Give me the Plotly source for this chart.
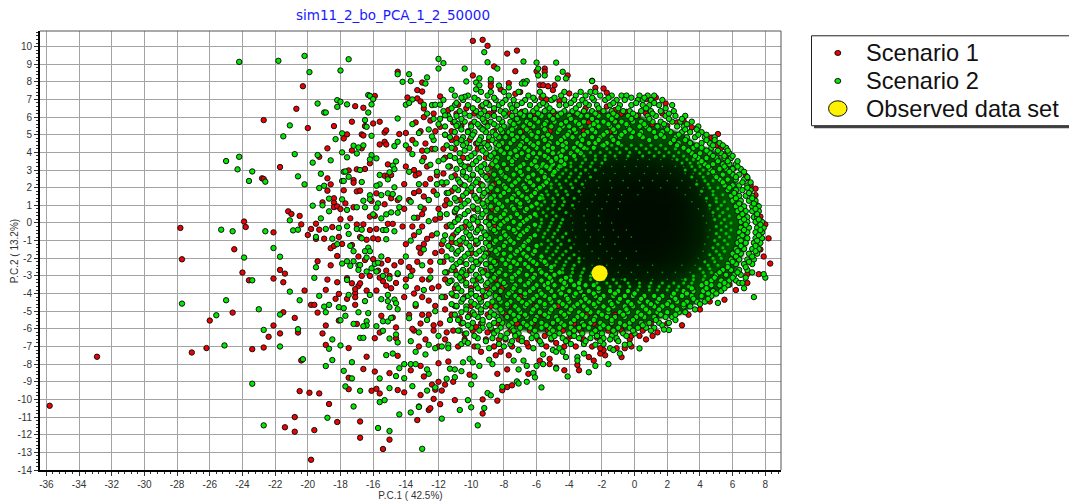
import plotly.graph_objects as go

TITLE = "sim11_2_bo_PCA_1_2_50000"
X_TITLE = "P.C.1 ( 42.5%)"
Y_TITLE = "P.C.2 ( 13.2%)"
SERIES_NAMES = ["Scenario 1", "Scenario 2", "Observed data set"]
X_TICKS = [-36,-34,-32,-30,-28,-26,-24,-22,-20,-18,-16,-14,-12,-10,-8,-6,-4,-2,0,2,4,6,8]
Y_TICKS = [10,9,8,7,6,5,4,3,2,1,0,-1,-2,-3,-4,-5,-6,-7,-8,-9,-10,-11,-12,-13,-14]
OBSERVED = [(-2.14, -2.85)]

# Scenario 1 points
S1 = [(-20.3,7.75),(-20.7,6.47),(-22.7,5.83),(-20,5.38),(-18.4,5.49),(-17.3,5.74),(-16.6,6.53),(-17.1,6.62),(-15.9,7.2),(-14.5,8.57),
(-16,5.64),(-15.6,5.74),(-16.5,5.49),(-15.3,5.13),(-15.2,5.25),(-14.4,5.04),(-16.7,5.02),(-16.6,4.96),(-17.6,5.02),(-17.8,4.79),
(-15.6,4.45),(-15.3,4.6),(-15.2,4.45),(-18.8,4.23),(-17.3,4.11),(-16.7,4.23),(-19.3,3.75),(-21.7,3.17),(-15.1,3.32),(-16.2,3.38),
(-17.5,2.98),(-17,3.04),(-16.5,3.06),(-15.3,2.68),(-15.1,2.68),(-14.9,2.72),(-18.8,2.53),(-22.8,2.53),(-22.7,2.49),(-17.2,2.43),
(-17.2,2.28),(-18.6,2.19),(-18.8,1.83),(-17.8,1.85),(-17,1.79),(-16.8,1.83),(-15.8,1.68),(-14.9,1.4),(-14.5,1.3),(-18.4,1.4),
(-18.4,1.15),(-17.7,1.11),(-18.4,.9),(-18.2,.94),(-18,.79),(-19.1,1.17),(-15.3,1.06),(-16.1,1.25),(-17.2,.89),(-21.2,.66),
(-21,.51),(-20.5,.4),(-16.2,.36),(-15.9,.4),(-18,.21),(-17.4,.26),(-23.9,.08),(-23.8,-.23),(-20.4,-.08),(-19.5,-.04),
(-27.8,-.28),(-22.1,-.53),(-19.8,-.34),(-19.3,-.38),(-18.5,-.23),(-17,-.09),(-16.6,-.08),(-16.2,-.4),(-15.8,-.34),(-15.1,-.05),
(-14.8,-.05),(-20,-.68),(-19.5,-.9),(-19,-.89),(-18.1,-.79),(-16.8,-.8),(-16.4,-.95),(-16,-.87),(-15.7,-.92),(-24.5,-1.49),
(-18.6,-1.43),(-18.4,-1.3),(-17.9,-1.19),(-17.3,-1.25),(-27.7,-2.06),(-35.8,-10.36),(-32.9,-7.58),(-27.1,-7.34),(-26.2,-7.09),(-26,-5.53),
(-24.6,-5.08),(-24,-2.81),(-23.6,-3.25),(-23.4,-7.15),(-22.7,-7.06),(-22.4,-6.45),(-22.1,-5.81),(-22.1,-3.15),(-21.7,-2.66),(-21.4,-2.87),
(-21.5,-3.36),(-21.5,-5.06),(-21.7,-6.26),(-20.8,-5.38),(-20.6,-6.21),(-20.4,-7.79),(-20.5,-9.53),(-19.9,-9.62),(-19.3,-9.66),(-18.7,-10.26),
(-20.8,-11),(-21.4,-11.58),(-20.8,-11.83),(-19.6,-11.74),(-18.2,-11.28),(-16.8,-11.25),(-16.8,-12.17),(-15,-12.28),(-15.4,-12.81),(-19.8,-13.42),
(-19.4,-2.17),(-18.6,-2.4),(-18.2,-1.87),(-18.8,-3.21),(-18.2,-3.36),(-18.9,-3.79),(-20.2,-3.83),(-19.8,-4.64),(-19.6,-4.64),(-19.4,-5.08),
(-18.3,-4.3),(-18.1,-4.02),(-17.6,-4.3),(-17.1,-4.64),(-17.1,-3.98),(-17.1,-4.21),(-17.6,-3.13),(-17.3,-3.42),(-16.9,-3.57),(-17.1,-3.75),
(-16.7,-3),(-16.2,-3),(-16.4,-3.83),(-15.8,-3.83),(-16.8,-3.42),(-18.9,-5.81),(-19.1,-6.26),(-18.9,-6.91),(-18.1,-5.53),(-17,-5.72),
(-17.5,-7.09),(-16.4,-7.58),(-16.6,-8.28),(-15.9,-6.53),(-15.5,-5.26),(-15.6,-6.21),(-14.8,-5.36),(-14.6,-5.92),(-14.6,-6.53),(-14.5,-7.53),
(-15,-8.51),(-15.9,-8.42),(-17.5,-8.77),(-17.5,-9.42),(-16.1,-9.51),(-15.8,-9.4),(-15.6,-9.66),(-14.5,-9.47),(-16.9,-1.9),(-16.5,-2.1),
(-16,-2.05),(-15.5,-2.3),(-15.2,-2.7),(-15,-3),(-15.4,-3.3),(-15.2,-3.55),(-14.9,-3.7),(-15.1,-2.1),(-14.7,-2.4),(-14.5,-2.9),
(-14.6,-3.4),(-15.6,-3.1),(-15.7,-2.7),
(-9.9,10.32),(-9.3,10.38),(-9,10.04),(-7.8,9.6),(-7.2,9.77),(-8.6,8.87),(-7.3,8.6),(-6,8.6),(-5.5,8.75),(-5.5,8.57),(-4.1,8.36),
(-9.9,8.36),(-7.7,7.92),(-8.8,7.96),(-2.6,8.06),(-8.8,7.75),(-5.8,7.81),(-5.6,7.81),(-5.3,7.75),(-4.9,7.81),(-5,7.53),(-7,7.42),
(-7.3,7.32),(-8.2,7.57),(-2.4,7.66),(-1.9,7.62),(-1.7,7.38),(-4,7.34),(1.9,6.77),(1.3,7.11),(.7,7.02),(3,5.79),(3.5,5.42),(3.8,5.36),
(5.1,5.04),(4.7,4.83),(5,4.41),(5.3,4.26),(5.5,3.9),(5.7,3.75),(6.1,3.13),(6.8,2.68),(6.9,2.53),(7.4,1.94),(7.1,2.15),(7.4,1.58),
(7.7,.36),(8,-.08),(8.2,-.87),(-13.9,7.11),(-13,7.96),(-13.3,7.53),(-13,7.45),(-13.3,7.06),(-13.1,6.89),(-11.9,7.17),(-12.9,6.49),
(-11.4,6.4),(-11.9,5.45),(-12.5,5.8),(-12.9,6),(-14,5.1),(-12.8,4.5),(-13,4.1),(-10.8,6.7),(-10.3,6.5),(-9.4,6.6),(-9,6.8),(-8.6,6.4),
(-5.7,7.1),(-5.4,7),(-5,7),(-4.6,6.9),(-6.9,6.3),(-3,6.5),(-1.7,6.6),(-1.2,6.4),(-.5,6.3),(.2,6.1),(1.1,5.6),(1.4,5.5),(2,5.5),(-6.4,5.4),
(-3.7,5.2),(-11.2,5.2),(-10.6,5.5),(-10,5.6),(-9.4,5.4),(-10.9,4.8),(-11.7,4.2),(-9.7,4.5),(-13.5,3),(-13.2,2.8),(-12.5,2.5),(-11.7,2.8),
(-12.9,1.5),(-13.5,1.7),(-11.6,1),(-11,.6),(-12.2,.2),(-13,.5),(-13.6,-.2),(-12.7,-.9),(-11.2,-1.1),(-11.8,-1.6),(-13.2,-1.4),(-13.8,-2.5),
(-12.5,-2.2),(-11.5,-2.8),(-13,-3.2),(-12,-3.6),(-13.5,-4),(-12.6,-4.4),(-11.1,-4.1),(-11.6,-4.9),(-13,-5.2),(-12.3,-5.8),(-10.7,-5.4),(-13.6,-6),
(-11.5,-6.2),(-10.4,-6.3),(-9.7,-5.9),(-9,-6.2),(-8.3,-6.6),(-7.3,-6.3),(-6.6,-6.8),(-5.5,-6.4),(-4.8,-6.8),(-3.9,-6.4),(-3.1,-6.6),(-2.3,-6.5),
(-13.3,-11.17),(-12.6,-10.6),(-12.5,-10.5),(-13.2,-10.4),(-11.9,-10.27),(-11,-10.04),(-9.3,-10),(-9.3,-10.8),(-8.4,-10.07),(-12.3,-9.97),(-13.1,-9.75),
(-14.1,-9.6),(-11.8,-9.5),(-12.2,-9.45),(-12.4,-9.16),(-12,-9),(-11.6,-9.16),(-11.1,-9),(-8.1,-9.48),(-7.8,-9.3),(-7.5,-9.2),(-8.4,-8.55),
(-7.8,-8.3),(-6.5,-8.55),(-10.1,-8.6),(-12.9,-8.7),(-13.7,-8.35),(-13.1,-8.1),(-12,-7.95),(-11.4,-7.85),(-4.3,-8.35),(-3.4,-8.35),(-3.5,-8.05),
(-5.2,-8),(-4.8,-8.2),(-5.2,-7.7),(-5.8,-7.8),(-8.5,-7.5),(-7.7,-7.5),(-9.4,-7.3),(-8.2,-7.3),(-2.8,-7.6),(-2.5,-7.8),(-2.1,-7.4),(-1.8,-7.5),
(-1.9,-7.2),(-2.1,-7.1),(-.8,-7.6),(-1.1,-7.1),(-.6,-7.1),(-.2,-7),(.7,-6.6),(1.1,-6.4),(1.4,-6.2),(2.9,-5.8),(-.2,-6.4),(.3,-6.4),(4.6,-4.45),
(5.5,-4.35),(5.8,-3.5),(6.9,-3.4),(6.9,-2.9),(8.3,-2.3),(7.6,-2.9),(2,-5.7),(3.3,-5.2),(4,-4.9),(6.2,-3.8),(7.7,-1.5),(7.9,-1.9),(7.5,1),(7.2,1.3)]

# Scenario 1, crowded left and lower parts, row by row: (P.C.2, [P.C.1 ...])
S1_RING = [
(6.2,[-12.3,-10.9,-9.8,-8.9,-7.7,-6.1,-4.9,-3.6,-2.2,-.8,.7,1.7]),(5.7,[-13.4,-11.1,-9.1,-8.1,-7.2,-5.4,-4.2,-2.8,-1.1,.4,2.6]),
(5.2,[-13.1,-12.2,-10.2,-8.6,-6.9,-5.2,-3.1,-1.5]),(4.7,[-13.6,-11.2,-10.1,-8.9,-7.4]),
(4.2,[-13.8,-12.4,-11,-9.6,-8.2]),(3.7,[-12.9,-11.6,-10.5,-9.1]),(3.2,[-14,-12.7,-11.3,-10.2,-8.8,-7.9]),
(2.7,[-13.4,-12.1,-11,-9.9,-9]),(2.2,[-14.1,-12.8,-11.7,-10.6,-9.4,-8.6]),(1.8,[-13.2,-12.3,-11.2,-10,-8.9]),
(1.3,[-13.8,-12.6,-11.5,-10.7,-9.5]),(.8,[-14.1,-12.9,-12,-10.9,-9.8,-8.7]),(.3,[-13.3,-11.9,-10.8,-9.9,-8.9]),
(-.2,[-14.2,-13,-11.5,-10.4,-9.5,-8.6]),(-.7,[-13.5,-12.4,-11.1,-10.1,-9.1]),(-1.2,[-14,-12.9,-11.8,-10.7,-9.7,-8.8]),
(-1.7,[-13.1,-12.2,-10.9,-10,-9]),(-2.2,[-14.3,-13.3,-11.7,-10.6,-9.5,-8.5]),(-2.7,[-13.6,-12.5,-11,-10.1,-9.2]),
(-3.2,[-14,-12.6,-11.6,-10.5,-9.6,-8.5]),(-3.7,[-13.3,-12.4,-11,-10,-9,-8.1]),(-4.2,[-14.1,-13,-11.6,-10.4,-9.3,-8.3,-7]),
(-4.7,[-13.4,-12.2,-11,-10,-8.8,-7.7,-6.1,-4.7]),(-5.2,[-13.8,-12.6,-11.2,-10.1,-9,-7.9,-6.8,-5.6,-4.2,-2.9,-1.2]),
(-5.7,[-13.1,-11.9,-10.6,-9.4,-8.4,-7.2,-6.2,-5,-3.7,-2.5,-1.4,-.3,1]),(-6.1,[-13.5,-12.3,-11.1,-9.9,-8.7,-7.6,-6.4,-5.3,-4.4,-3.3,-2.4,-1.6,-.8,.5]),
(-6.6,[-12.8,-11.6,-10.4,-9.1,-7.9,-7.1,-5.9,-5.1,-4.1,-3.2,-2,-1.1,-.3]),(-7,[-13.2,-12,-10.8,-9.8,-8.6,-7.5,-6.5,-5.4,-4.3,-3.6,-2.6]),
]

# Scenario 2 points (sparse outer part)
S2 = [(-24.2,9.13),(-21.8,9.19),(-20.2,9.47),(-17.5,9.28),(-19.9,8.55),(-18,8.64),(-14.5,8.43),(-16.3,7.25),(-16.2,7.2),(-16,7.02),(-18.2,6.96),
(-18,6.87),(-19.4,6.77),(-17.6,6.72),(-16.1,6.72),(-18.2,6.58),(-19,6.26),(-18.9,6.26),(-16.3,6.26),(-16.5,5.83),(-14.5,5.92),(-21.1,5.53),
(-16.4,5.45),(-21.5,4.91),(-17.9,5.08),(-16.1,4.94),(-18.3,4.75),(-17.2,4.38),(-16.9,4.28),(-16.6,4.4),(-14.7,4.36),(-14.5,4.6),(-20.8,3.9),
(-19.4,3.85),(-17.9,4),(-17,3.94),(-16.1,3.85),(-17.6,3.72),(-16.2,3.6),(-15.8,3.66),(-24.2,3.75),(-25,3.51),(-19.7,3.42),(-18.6,3.55),(-24.3,3.04),
(-23.4,2.92),(-17.8,2.9),(-17.7,2.92),(-16.8,3),(-14.6,3.49),(-14.8,3.25),(-14.7,3.05),(-15,2.87),(-15.6,2.72),(-19.2,2.79),(-20.6,2.64),(-17.5,2.62),
(-15.1,2.47),(-23.6,2.38),(-22.6,2.34),(-17.9,2.38),(-17.8,2.38),(-16.7,2.32),(-20.2,2.19),(-19,2.11),(-19.3,1.98),(-15.6,2.19),(-15.8,2.11),(-14.7,2.02),
(-15.1,1.68),(-15.5,1.58),(-14.8,1.64),(-16.2,1.57),(-16.2,1.34),(-16.6,1.26),(-18.7,1.38),(-17.9,1.34),(-14.4,1.4),(-19.7,.98),(-19.1,1),(-15.7,1.11),
(-15.8,.87),(-17,.89),(-16.5,.89),(-17.6,.74),(-18.7,.66),(-16,.49),(-14.4,.89),(-14.5,.58),(-14.9,.6),(-15.2,.49),(-15.5,.26),(-19.2,.26),(-21.1,.15),
(-20.9,-.42),(-20.6,-.38),(-25.3,-.38),(-24.6,-.47),(-22.6,-.47),(-18.1,-.28),(-17.6,-.19),(-17,-.34),(-16.7,-.38),(-17.5,-.62),(-19.5,-.79),(-18.9,-.34),
(-18.5,-.89),(-15.2,-.92),(-15.4,-.4),(-15.2,-.4),(-14.7,-.47),(-16.7,-.87),(-22.1,-1.42),(-18.2,-1.2),(-17.4,-1.3),(-16.3,-1.4),(-27.7,-4.57),(-25,-4.38),
(-25.6,-5.23),(-25.1,-6.94),(-23.9,-1.96),(-23.4,-3.25),(-23,-4.89),(-22.7,-6.06),(-21.7,-5.19),(-21.7,-1.91),(-21.1,-3.89),(-20.5,-4.38),(-20.6,-6.02),
(-21.7,-7),(-20.3,-7.72),(-23.4,-9.11),(-22.7,-11.47),(-19.6,-3.11),(-19.5,-2.51),(-19.3,-4.13),(-19,-4.74),(-18.7,-4.64),(-18.9,-5.06),(-18.7,-7.13),
(-18.5,-6.6),(-18.5,-7.77),(-18.9,-8.11),(-18,-6.94),(-18.1,-4.77),(-17.8,-4.83),(-18,-5.51),(-17.7,-5.26),(-17.2,-5.72),(-17.3,-7.89),(-17.8,-8.38),
(-17.7,-9.26),(-17.3,-8.81),(-16.8,-9.51),(-17.2,-10.4),(-18.8,-11.04),(-15.7,-11.62),(-15,-11.79),(-15.6,-10.15),(-15.3,-10.04),(-14.4,-10.85),
(-15.6,-8.81),(-15,-9.36),(-15.2,-7.49),(-14.8,-7.4),(-14.4,-8.23),(-14.6,-8.68),(-16.8,-6.51),(-16.6,-6.51),(-15.4,-6.11),(-15,-6.55),(-14.6,-6.32),
(-14.5,-6.77),(-15.8,-5.85),(-16.4,-5.57),(-16.4,-5.81),(-16.6,-5.85),(-15.4,-5.57),(-15.1,-5.58),(-14.9,-5.38),(-16.3,-5.11),(-16.9,-5.06),(-16.5,-4.43),
(-17.5,-4.08),(-16.2,-4.08),(-15.5,-4.32),(-15.1,-4.08),(-15.1,-4.43),(-14.7,-4.34),(-14.6,-4.55),(-15,-4.77),(-14.5,-4.89),(-17.6,-3.23),(-17.4,-2.43),
(-16.9,-2.4),(-16.4,-2.75),(-15.8,-2.75),(-15.4,-3),(-15,-3.15),(-14.5,-2.85),(-17.9,-2.3),(-17.6,-2.17),(-17.2,-2.17),(-16.9,-2.66),(-16.8,-2.38),
(-16.4,-1.96),(-15.9,-2.32),(-15.7,-2.25),(-15.5,-1.9),(-16.1,-2.57),(-17.2,-1.6),(-16.2,-1.6),(-16.5,-1.6),
(-12,9.3),(-11.7,9.06),(-12,8.75),(-10.4,8.75),(-9.2,9.68),(-9,9.11),(-8.4,8.75),(-6.8,9.15),(-6,9.09),(-4.8,9.09),(-5.9,8.75),(-5.9,8.36),(-5.5,8.36),
(-4.4,8.57),(-4.2,8.19),(-4.7,8.19),(-13.8,8.43),(-12.7,8.25),(-13.7,8.04),(-14.2,8),(-12.8,7.9),(-10.3,8.02),(-9.5,8.2),(-9.7,7.96),(-8.8,8.15),
(-11.2,7.55),(-9.5,7.8),(-9.7,7.57),(-8.8,7.42),(-8.3,7.79),(-7.7,7.68),(-6.8,8),(-6.6,8.04),(-6.9,7.9),(-6.7,7.9),(-2.6,8.04),(-10.4,7.15),(-10.6,7.1),
(-13.6,7),(-14,6.7),(-13.8,6.8),(-12.2,6.7),(-12.9,6.7),(-11.6,6.1),(-11.9,6.7),(-12.3,5.9),(-13.6,5.6),(-12,5.6),(-11.3,5.9),(-10.9,5.5),
(-13.2,5.1),(-12.4,4.9),(-11.6,5),(-14,4.4),(-13.4,4.5),(-12.2,4.2),(-13.6,3.9),(-13,3.5),(-11.7,3.6),(-12.5,3.3),(-13.8,2.9),(-13.2,2.2),(-12.1,2.2),
(-11.5,2.3),(-13.7,1.2),(-12.6,1.3),(-12.1,1.6),(-11.4,1.7),(-13.1,.9),(-11.9,.5),(-13.5,.3),(-12.6,.1),(-11.2,-.2),(-13.2,-.5),(-12.1,-.6),(-13.7,-1),
(-12.9,-1.5),(-11.7,-1),(-14,-1.9),(-13,-2.4),(-11.9,-2.2),(-13.7,-3),(-12.5,-3.1),(-11.3,-3.3),(-14,-3.6),(-12.9,-3.8),(-11.8,-4.2),(-13.4,-4.6),(-12.2,-5),
(-10.9,-4.7),(-13.8,-5.4),(-12.7,-5.5),(-11.3,-5.5),(-13.2,-6.2),(-12,-6.4),(-10.8,-6.1),(-13.7,-6.7),(-12.6,-6.9),(-11.4,-6.9),(-10.2,-6.8),
(-13,-12.8),(-9.6,-11.47),(-11.8,-11.09),(-10.7,-10.6),(-10,-10.45),(-9.2,-10.49),(-13.7,-10.74),(-13.2,-10.43),(-10.2,-10.04),(-9,-9.64),(-8.8,-9.77),
(-5.7,-9.32),(-8.1,-9.28),(-7.2,-8.98),(-7.1,-9.1),(-6.6,-9),(-6.2,-8.5),(-6.1,-8.75),(-13.6,-9.25),(-12.2,-9.32),(-12.7,-9.5),(-10,-9.15),(-9.8,-8.7),
(-11.5,-8.83),(-11,-8.74),(-12.6,-8.55),(-12.7,-8.3),(-14.1,-8.8),(-2.8,-8.46),(-4.1,-8.7),(-4.8,-8.25),(-1.6,-8),(-2.4,-8.1),(-7.1,-8.3),(-10.6,-8.4),
(-11.3,-8.26),(-11,-8.3),(-9.5,-8.1),(-8.7,-8),(-6,-8.1),(-5.6,-8),(-13.7,-8),(-13.4,-8),(-14.1,-8),(.3,-7.11),(2.1,-6.07),(1.8,-6.04),(7.3,-4.2),(8,-3.1),
(7.9,-2.9),(6.7,-3.7),(6.6,-3.4),(5.1,-4.53),(-1.5,-7.1),(-1.3,-7.2),(-.9,-7.4),(-.6,-6.9),(-1.5,-6.6),(-2.4,-6.9),(-3.5,-7.6),(-3.5,-7.8),(-4.2,-7.6),
(-5.6,-7.45),(-6.2,-7.1),(-5,-7.2),(-4.8,-7.3),(-4.6,-7.1),(-4.4,-7.3),(-3.1,-7.4),(-6.6,-8.1),(-6.8,-7.8),(-7.4,-7.8),(-8.9,-7.75),(-10.1,-7.7),(-10.5,-7.9),
(-9.9,-7.9),(-11.4,-7.1),(-11.8,-7),(-12.2,-7.1),(-12.8,-7.45),(-13.4,-7.3),(-9.6,-7),(-8.9,-7.1),(-8,-7),(-7.1,-7.2),(-6.9,-6.7)]

# Scenario 2, the crowded ring, row by row: (P.C.2, [P.C.1 ...])
S2_RING = [
(7.43,[-9.4,-8,-7.1,-5.8,-4.3,-3.3,-2.7,-2.4]),
(7.22,[-11,-10.2,-9,-7.7,-6.5,-5.6,-4.5,-3.6,-3,-2.1,-1.4,-.8,-.5,.3,.8,1.2]),
(6.97,[-11.7,-10.5,-9.6,-8.5,-7.9,-7.4,-6.7,-6.1,-5.1,-4.3,-3.7,-3.2,-2.5,-1.8,-1.1,-.6,.2,.5,1,1.7]),
(6.68,[-12.4,-11,-10.2,-9.3,-8.9,-8.3,-7.6,-7.2,-6.4,-5.8,-5.4,-4.6,-4.2,-3.4,-2.8,-2.3,-1.5,-.9,-.2,.5,.9,1.5,2.3]),
(6.34,[-11.7,-10.7,-9.7,-9.2,-8.2,-7.9,-7.3,-6.7,-6.2,-5.5,-5,-4.3,-3.8,-3.1,-2.6,-1.9,-1.4,-.7,-.3,.4,1,1.6,2.4]),
(6.07,[-11.4,-10.9,-10.1,-9.5,-9,-8.6,-7.9,-7.5,-6.8,-6.4,-5.7,-5.2,-4.7,-4,-3.3,-2.9,-2.2,-1.6,-1.1,-.4,.1,.8,1.3,1.9,2.5,3.1]),
(5.74,[-11,-10.4,-9.8,-9.2,-8.8,-8.1,-7.6,-7.1,-6.6,-5.9,-5.4,-4.9,-4.2,-3.6,-3.1,-2.3,-1.9,-1.2,-.8,-.1,.4,1.1,1.6,2.3,2.8,3.5]),
(5.47,[-11.6,-10.7,-10,-9.5,-9,-8.4,-8,-7.3,-6.8,-6.2,-5.6,-5.1,-4.4,-4,-3.3,-2.7,-2.2,-1.5,-1,-.4,.3,.7,1.4,1.9,2.6,3,3.9]),
(5.15,[-11,-10.2,-9.8,-9.1,-8.7,-8.1,-7.7,-7,-6.4,-5.9,-5.4,-4.7,-4,-3.6,-2.9,-2.4,-1.7,-1.2,-.6,-.1,.4,1.2,1.7,2.2,2.9,3.4,4.1]),
(4.86,[-11.3,-10.5,-10,-9.4,-8.9,-8.3,-7.9,-7.2,-6.8,-6,-5.6,-5.1,-4.3,-3.8,-3.3,-2.6,-2.1,-1.4,-.9,-.2,.5,1.3,1.8,2.5,3.2,3.7,4.3,4.9]),
(4.53,[-10.9,-10.3,-9.6,-9.2,-8.5,-8.1,-7.6,-6.9,-6.4,-5.9,-5.2,-4.7,-4.2,-3.5,-2.8,-2.4,-1.7,-1,2.2,2.7,3.4,4.1,4.6,5.2]),
(4.26,[-11.2,-10.1,-9.4,-8.9,-8.4,-7.8,-7.1,-6.7,-6,-5.5,-5,-4.2,-3.7,-3.1,-2.5,3,3.6,4.1,4.7,5.6]),
(3.95,[-10.7,-9.8,-9.1,-8.6,-8,-7.6,-6.9,-6.2,-5.8,-5,-4.6,-3.9,-3.3,3.5,4,4.6,5.3,5.8]),
(3.68,[-11,-10.2,-9.5,-8.9,-8.4,-7.7,-7.3,-6.6,-6,-5.3,-4.8,-4.2,3.9,4.4,5,5.5,5.9]),
(3.33,[-10.6,-9.9,-9.2,-8.7,-8,-7.5,-6.8,-6.3,-5.6,-5,-4.3,4.3,4.8,5.4,5.8,6.2]),
(3.06,[-10.9,-10.1,-9.6,-9,-8.3,-7.8,-7.2,-6.5,-5.9,-5.2,-4.7,4.6,5.2,5.6,6,6.5]),
(2.74,[-10.5,-9.9,-9.3,-8.6,-8.1,-7.4,-6.9,-6.2,-5.5,-5,4.9,5.4,6,6.4]),
(2.46,[-10.8,-10.1,-9.6,-9,-8.4,-7.7,-7.1,-6.6,-5.9,-5.3,5.2,5.7,6.2,6.7]),
(2.13,[-10.4,-9.9,-9.3,-8.7,-8,-7.5,-6.8,-6.2,-5.6,5.5,6,6.4,6.9]),
(1.86,[-10.8,-10.2,-9.5,-9,-8.4,-7.7,-7.2,-6.6,-6,5.7,6.2,6.6,7.1]),
(1.54,[-10.5,-9.8,-9.3,-8.6,-8.2,-7.4,-6.9,-6.3,-5.7,5.9,6.4,6.8,7.2]),
(1.26,[-10.9,-10.2,-9.6,-9,-8.5,-7.8,-7.2,-6.5,6,6.5,7,7.4]),
(.94,[-10.6,-9.9,-9.2,-8.8,-8.1,-7.5,-7,-6.3,6.2,6.7,7.2,7.6]),
(.67,[-11,-10.2,-9.6,-9.1,-8.5,-7.9,-7.3,-6.7,6.3,6.8,7.2,7.6]),
(.33,[-10.7,-9.8,-9.4,-8.8,-8.2,-7.6,-7,-6.4,6.4,6.9,7.3,7.5]),
(.06,[-11,-10.3,-9.6,-9.1,-8.6,-8,-7.4,-6.8,6.5,6.9,7.4,7.8]),
(-.27,[-10.6,-10,-9.4,-8.8,-8.3,-7.7,-7.1,-6.5,6.5,7,7.5,7.9]),
(-.53,[-10.9,-10.3,-9.7,-9.2,-8.5,-8,-7.3,-6.8,6.4,6.9,7.4,7.8]),
(-.86,[-11.2,-10.5,-10,-9.4,-8.9,-8.2,-7.7,-7.1,-6.4,6.4,6.9,7.4,7.8]),
(-1.13,[-10.9,-10.3,-9.6,-9.1,-8.6,-7.9,-7.4,-6.7,6.3,6.8,7.3,7.7]),
(-1.47,[-11.2,-10.6,-10,-9.3,-8.8,-8.3,-7.6,-7,-6.5,6.2,6.7,7.2,7.6]),
(-1.74,[-10.9,-10.2,-9.7,-9.1,-8.4,-8,-7.3,-6.8,-6.2,6,6.5,7,7.5]),
(-2.07,[-11.2,-10.6,-10,-9.4,-8.8,-8.1,-7.7,-7,-6.4,-5.7,5.9,6.4,6.9,7.3]),
(-2.33,[-10.9,-10.3,-9.6,-9.1,-8.5,-7.9,-7.2,-6.7,-6,-5.4,5.7,6.2,6.7,7.2]),
(-2.66,[-11.2,-10.5,-10,-9.4,-8.7,-8.2,-7.6,-7,-6.3,-5.8,-5.1,5.4,5.9,6.4,6.9]),
(-2.94,[-10.9,-10.3,-9.7,-9,-8.5,-7.9,-7.3,-6.6,-6.1,-5.4,-4.9,5,5.6,6.1,6.5]),
(-3.26,[-11.2,-10.6,-9.9,-9.4,-8.8,-8.2,-7.5,-7,-6.4,-5.7,-5.1,-4.5,-3.9,4.7,5.3,5.8,6.2]),
(-3.53,[-10.9,-10.3,-9.7,-9.1,-8.4,-7.9,-7.3,-6.7,-6,-5.5,-4.9,-4.2,-3.7,-3,-2.5,4.1,4.7,5.2,5.7]),
(-3.86,[-10.6,-10,-9.3,-8.8,-8.2,-7.5,-7,-6.4,-5.8,-5.1,-4.6,-4,-3.3,-2.8,-2.2,-1.5,-1,-.4,3,3.6,4.2,4.8,5.3]),
(-4.14,[-10.9,-10.2,-9.7,-9.1,-8.5,-7.8,-7.3,-6.7,-6,-5.5,-4.9,-4.2,-3.7,-3.1,-2.4,-1.9,-1.3,-.6,-.1,.6,1.2,1.7,2.3,2.9,3.5,4.1,4.7]),
(-4.46,[-10.6,-10,-9.4,-8.7,-8.2,-7.6,-6.9,-6.4,-5.8,-5.1,-4.6,-4,-3.3,-2.8,-2.2,-1.5,-1,-.4,.3,.8,1.4,2.1,2.6,3.2,3.8,4.3]),
(-4.73,[-10.9,-10.3,-9.6,-9.1,-8.5,-7.8,-7.3,-6.7,-6,-5.5,-4.9,-4.2,-3.7,-3.1,-2.4,-1.9,-1.3,-.6,-.1,.5,1.2,1.7,2.3,3,3.4]),
(-5.06,[-10.6,-9.9,-9.4,-8.8,-8.1,-7.6,-7,-6.3,-5.8,-5.2,-4.5,-4,-3.4,-2.7,-2.2,-1.6,-.9,-.4,.2,.9,1.4,2,2.7,3.1]),
(-5.33,[-10.2,-9.6,-8.9,-8.4,-7.8,-7.1,-6.6,-6,-5.3,-4.8,-4.2,-3.5,-3,-2.4,-1.7,-1.2,-.6,.1,.6,1.2,1.9,2.3]),
(-5.66,[-10.5,-9.9,-9.3,-8.6,-8.1,-7.5,-6.8,-6.3,-5.7,-5,-4.5,-3.9,-3.2,-2.7,-2.1,-1.4,-.9,-.3,.4,.9,1.5,2.1]),
(-5.94,[-10,-9.3,-8.8,-8.2,-7.5,-7,-6.4,-5.7,-5.2,-4.6,-3.9,-3.4,-2.8,-2.1,-1.6,-1,-.3,.2,.7,1.2]),
(-6.26,[-10.3,-8.6,-7.8,-7.1,-6.2,-5.2,-4.6,-4,-3.2,-2.6,-2,-1.2,-.7,0]),
(-6.53,[-9.6,-8.7,-7.9,-6.9,-6.3,-5.1,-4.4,-3.4,-2.7,-1.9,-1.1]),
(-6.86,[-10.6,-8.3,-7.6,-5.7,-3.9,-3.1,-1.9,-.3]),
]

# Scenario 2, second pass over the crowded ring where the first leaves gaps
S2_RING2 = [
(7.1,[-9.8,-8.6,-6.2,-4.9,-2.6,-1.6,-.2,.6]),(6.8,[-10.9,-9.1,-8.1,-6.9,-5.6,-3.9,-3,-1.3,.1,1.2]),
(6.5,[-11.2,-9.9,-8.6,-7.5,-6,-5.2,-3.6,-2.2,-1,.7,1.9]),(6.2,[-12.7,-10.4,-9.4,-8,-7,-5.9,-4.5,-3.5,-2.4,-1.3,-.1,1.1,2.1]),
(5.9,[-11.9,-10.6,-9.3,-8.3,-7.2,-6.1,-5,-3.9,-2.6,-1.4,-.2,.9,2.1,2.9]),(5.6,[-10.8,-9.6,-8.6,-7.4,-6.4,-5.5,-4.5,-3.4,-2.5,-1.6,-.5,.6,1.8,3.2]),
(5.3,[-12.6,-10.6,-9.3,-8.2,-7.5,-6.6,-5.5,-4.6,-3.7,-2.6,-1.3,-.3,.9,2,3.1,3.8]),(5,[-11.6,-9.9,-8.5,-7.5,-6.3,-5.3,-4.1,-3.1,-1.9,-.8,.3,1.6,2.7,3.9,4.4]),
(4.7,[-12.3,-10.6,-9.5,-8.7,-7.4,-6.6,-5.5,-4.5,-3.2,-2.2,-1.3,.9,2.4,3.1,4.4,4.9]),(4.4,[-11.5,-10.5,-9,-8.3,-7,-6.2,-5.3,-4.4,-3.3,-1.9,2.6,3.8,4.8,5.4]),
(4.1,[-12.7,-10.4,-9.3,-8.2,-7.3,-6.5,-5.3,-4.4,-3.5,3.3,4.4,5.1,5.7]),(3.8,[-11.3,-10,-8.8,-7.2,-6.5,-5.5,-4.5,-3.7,3.7,4.8,5.5,6]),
(3.5,[-12,-10.7,-9.7,-8.5,-7.5,-6.1,-5.1,-4.5,4.1,5.1,5.7,6.3]),(3.2,[-11.4,-10.4,-9.4,-8.4,-7,-6,-5.4,-4.6,4.5,5.5,6.3]),
(2.9,[-12.1,-10.5,-9.4,-8.2,-7,-5.7,-4.9,4.8,5.8,6.7]),(2.6,[-11.2,-10.3,-9.1,-7.9,-6.5,-5.5,5,6.2,6.9]),
(2.3,[-11.8,-10.7,-9.7,-8.3,-7.3,-6.4,-5.4,5.4,6.6,7.1]),(2,[-11,-10,-8.8,-7.9,-6.7,-5.8,5.8,6.9]),
(1.7,[-11.5,-10.3,-9.2,-8,-7.1,-6.1,6.1,7]),(1.4,[-11,-9.7,-8.8,-7.5,-6.6,-5.8,6.2,7.2]),
(1.1,[-11.3,-10.4,-9.3,-8.3,-7,-6,6.4,7.3]),(.8,[-10.9,-9.6,-8.4,-7.4,-6.6,6.5,7.4]),
(.5,[-11.5,-10.4,-9.3,-8,-7.2,-6.1,6.6,7.5]),(.2,[-10.8,-9.9,-8.5,-7.8,-6.6,6.7,7.6]),
(-.1,[-11.3,-10.1,-8.9,-8.2,-7,-6.1,6.8,7.7]),(-.4,[-10.8,-9.6,-8.6,-7.4,-6.6,6.7,7.7]),
(-.7,[-11.6,-10.1,-9.1,-7.9,-7,-6.1,6.6,7.6]),(-1,[-10.7,-9.7,-8.5,-7.6,-6.5,6.5,7.5]),
(-1.3,[-11.4,-10.1,-8.9,-8,-6.8,-6,6.5,7.4]),(-1.6,[-10.8,-9.5,-8.5,-7.2,-6.1,6.3,7.4]),
(-1.9,[-11.5,-10.4,-9.2,-7.6,-6.6,-5.7,6.2,7.2]),(-2.2,[-10.7,-9.7,-8.6,-7.4,-6.2,-5.5,6,7]),
(-2.5,[-11.1,-9.9,-8.8,-7.6,-6.5,-5.1,5.7,6.8]),(-2.8,[-11.6,-10.6,-9.3,-8.3,-7.1,-5.7,-4.6,5.2,6.3,7.2]),
(-3.1,[-10.7,-9.5,-8.6,-7.5,-6.2,-5.2,-4.2,4.9,6,6.8]),(-3.4,[-11.4,-10.3,-9,-8,-6.5,-5.3,-4.3,-3.4,4.4,5.5,6.4]),
(-3.7,[-10.8,-9.6,-8.6,-7.4,-6.2,-5.3,-4.4,-3.4,-2.2,3.5,4.4,5.5]),(-4,[-11.2,-10,-8.9,-7.7,-6.7,-5.7,-4.5,-3.6,-2.5,-1.2,0,2.4,3.2,4.5,5]),
(-4.3,[-10.5,-9.5,-8.3,-7.1,-6.2,-5.2,-4.1,-3,-2.1,-.9,.4,1.5,2.5,3.6,4.5]),(-4.6,[-11.2,-9.8,-9,-7.8,-6.6,-5.5,-4.4,-3.5,-2.5,-1.4,-.2,1,2,3,4]),
(-4.9,[-10.3,-9.4,-8.2,-7.1,-6.2,-5.1,-3.9,-2.9,-1.6,-.5,.7,1.5,2.6,3.7]),(-5.2,[-11,-9.8,-8.6,-7.4,-6.7,-5.5,-4.3,-3.2,-2,-.7,.4,1.6,2.5]),
(-5.5,[-10.8,-9.3,-8.3,-7.3,-6.1,-4.7,-3.7,-2.5,-1.4,-.1,1.3,2.5]),(-5.8,[-10.2,-8.9,-7.7,-6.6,-5.4,-4.3,-3.1,-1.9,-.6,.5,1.7]),
(-6.1,[-10.7,-9.5,-8.4,-7.4,-6.1,-5,-3.7,-2.4,-1.3,-.1,1]),(-6.4,[-9.8,-8.2,-7.3,-6,-4.9,-3.7,-2.3,-1.4,-.5]),
(-6.7,[-10.4,-9.1,-7.5,-5.8,-4.2,-3,-2.1,-1]),
]

# Scenario 2, centre of the cloud where only specks of green survive
S2_MID = [
(4.4,[-2,-1.4,-.8,-.2,.4,1,1.6]),(4.2,[-2.9,-1.7,-1.1,-.5,.1,.7,1.3,1.9,2.5]),(4.0,[-3.9,-3.3,-2.7,-2.1,-1.5,-.9,-.3,.3,.9,1.5,2.1,2.7]),
(3.8,[-3.1,-2.4,-1.8,-1.2,-.4,.5,1.2,1.8,2.4,3]),(3.6,[-4.8,-4.2,-3.6,-3,-2.4,-1.8,2.6,3.2,3.6]),(3.4,[-3.9,-3.2,-2.6,-2,2.9,3.4,3.9]),
(3.2,[-5.7,-5.1,-4.5,-3.9,-3.3,-2.7,3.5,4]),(3,[-4.2,-3.6,-3,-2.4,3.1,3.7,4.2]),
(2.8,[-5,-4.4,-3.9,-3.3,4,4.5]),(2.6,[-4.6,-4,-3.4,-2.7,3.5,4.2]),(2.4,[-4.8,-4.2,-3.6,4.3,4.8]),(2.2,[-5.1,-4.6,-3.9,-3.2,3.8,4.5]),
(2.0,[-5.1,-4.5,-3.8,4.6,5.1]),(1.8,[-5.4,-4.8,-4.2,-3.4,4.1,4.8]),(1.6,[-5.3,-4.7,-4.1,4.8,5.4]),(1.4,[-5.6,-5,-4.4,-3.7,4.4,5]),
(1.2,[-5.5,-4.9,-4.3,5,5.5]),(1,[-5.7,-5,-4.4,-3.8,4.6,5.3]),(.8,[-5.9,-5.3,-4.6,5.1,5.7]),(.6,[-5.6,-5,-4.2,4.8,5.4]),
(.4,[-6,-5.4,-4.8,5.2,5.8]),(.2,[-5.7,-5,-4.4,4.9,5.5]),(0,[-5.7,-5.1,-4.5,5.3,5.9]),(-.2,[-5.8,-5.2,-4.6,5,5.6]),
(-.4,[-5.9,-5.3,-4.7,5.3,5.9]),(-.6,[-5.5,-4.9,-4.2,5,5.6]),(-.8,[-5.6,-5,-4.4,5.2,5.8]),(-1,[-5.3,-4.7,-4,4.9,5.5]),
(-1.2,[-5.7,-5.1,-4.5,5.1,5.7]),(-1.4,[-5.3,-4.7,-3.9,4.8,5.4]),(-1.6,[-5.4,-4.8,-4.2,5,5.5]),(-1.8,[-5,-4.4,-3.7,4.6,5.2]),
(-2,[-5.2,-4.6,-4,-3.4,4.8,5.3]),(-2.2,[-4.8,-4.2,-3.4,4.3,4.9]),(-2.4,[-4.9,-4.3,-3.7,4.5,5.1]),(-2.6,[-4.4,-3.8,-3.1,-2.4,4,4.6]),
(-2.8,[-4.4,-3.8,-3.2,-2.6,4.2,4.7]),(-3,[-3.9,-3.3,-2.7,-1.9,3.6,4.3]),(-3.2,[-3.3,-2.7,-1.9,-1.3,-.6,3.1,3.6,4.2]),(-3.4,[-2.3,-1.7,-1.1,-.4,.3,1,1.7,2.4,3,3.5]),
(-3.6,[-1.5,-.9,-.3,.3,.9,1.5,2.1,2.7,3.3]),(-3.8,[.2,.9,1.4,2,2.6]),
]
S2_SPECKS = [
(3.6,[-1.1,-.5,.2,.9,1.6,2.3]),(3.2,[-2.1,-1.4,-.6,.1,.8,1.7,2.5,3]),(2.8,[-2.8,-1.9,-1.2,-.3,.6,1.4,2.2,3.1,3.6]),
(2.4,[-3,-2.3,-1.5,-.7,.3,1.1,2,2.9,3.8]),(2,[-3.1,-2.2,-1.4,-.4,.5,1.6,2.6,3.4,4.2]),(1.6,[-3.3,-2.4,-1.6,-.8,.2,3.1,4]),
(1.2,[-3.4,-2.6,-1.7,-.9,3.5,4.4]),(.8,[-3.7,-2.9,-2,-1,3.9,4.6]),(.4,[-3.9,-3.1,-2.2,4.2,4.8]),(0,[-3.8,-3,-2.1,-1.4,4.4]),
(-.4,[-3.8,-3,-2.2,-1.3,-.5,4.6]),(-.8,[-3.6,-2.7,-1.9,-1,-.2,4.5]),(-1.2,[-3.7,-2.9,-2.1,-1.2,4.3]),(-1.6,[-3.4,-2.6,-1.7,-.9,.1,4.2]),
(-2,[-3.1,-2.2,-1.4,-.5,3.9]),(-2.4,[-2.6,-1.7,-.9,.2,1.1,2.9,3.7]),(-2.8,[-1,-.2,.8,1.7,2.5,3.4]),(-3.2,[-.8,.1,1.1,2,2.9]),
]

# Overplotting darkness of the cloud, read cell by cell (0 = white paper, 4 = black)
DENS_X = [-11,-10,-9,-8,-7,-6,-5,-4,-3,-2,-1,0,1,2,3,4,5,6,7,8]
DENS_Y = [7,6,5,4,3,2,1,0,-1,-2,-3,-4,-5,-6,-7]
DENS_Z = [
[0,0,0,0,0,0,0,0,0,0,0,0,0,0,0,0,0,0,0,0],
[0,0,0,.4,.9,1,1,1,1,1,1,.8,.5,0,0,0,0,0,0,0],
[0,0,.4,.8,1.1,1.2,1.3,1.4,1.4,1.5,1.5,1.4,1.2,1,.7,0,0,0,0,0],
[0,0,.5,1,1.3,1.5,1.7,1.9,2.1,2.3,2.5,2.6,2.5,2.3,1.7,1.1,.7,0,0,0],
[0,0,.6,1.1,1.5,1.8,2.1,2.5,2.8,3.1,3.3,3.4,3.4,3.2,2.8,2,1.1,.7,0,0],
[0,0,.7,1.2,1.6,2,2.4,2.9,3.3,3.6,3.8,3.9,3.9,3.8,3.4,2.7,1.6,.9,0,0],
[0,0,.7,1.2,1.7,2.2,2.7,3.2,3.6,3.8,4,4,4,4,3.7,3,1.8,1,.5,0],
[0,0,.7,1.2,1.7,2.2,2.7,3.2,3.6,3.8,4,4,4,4,3.7,3.1,1.9,1.1,.6,0],
[0,0,.7,1.2,1.7,2.1,2.6,3.1,3.5,3.7,3.9,4,4,3.9,3.6,3,1.8,1.1,.6,0],
[0,0,.7,1.1,1.6,2,2.4,2.8,3.2,3.5,3.7,3.8,3.8,3.6,3.3,2.6,1.6,.9,.4,0],
[0,0,.7,1,1.4,1.7,2,2.3,2.6,2.9,3.1,3.2,3.2,3,2.5,1.8,1.1,.7,0,0],
[0,0,.6,.9,1.2,1.4,1.6,1.7,1.9,2,2.1,2.2,2.1,1.9,1.5,1,.7,0,0,0],
[0,0,.5,.8,1,1.1,1.2,1.2,1.3,1.3,1.3,1.2,1.1,.9,.7,0,0,0,0,0],
[0,0,.3,.6,.7,.8,.8,.8,.8,.8,.8,.7,.3,0,0,0,0,0,0,0],
[0,0,0,0,0,0,0,0,0,0,0,0,0,0,0,0,0,0,0,0],
]


def unzip(pairs):
    return [p[0] for p in pairs], [p[1] for p in pairs]


def unrow(rows):
    xs, ys = [], []
    for y, row in rows:
        xs += row
        ys += [y] * len(row)
    return xs, ys


W, H = 1069, 504
L, R, T, B = 40, 781, 30.7, 470
X_RANGE = [-36.39, 8.96]
Y_RANGE = [-14, 10.88]
RED, GREEN, YELLOW = "#f00000", "#00ea00", "#fff200"
TICK = "#333333"


def paper_x(p):
    return (p - L) / (R - L)


def paper_y(p):
    return (B - p) / (B - T)


fig = go.Figure()
fig.add_trace(go.Heatmap(
    x=DENS_X, y=DENS_Y, z=DENS_Z, zmin=0, zmax=4, zsmooth="best", showscale=False, hoverinfo="skip",
    colorscale=[[0, "rgba(0,90,0,0)"], [.14, "rgba(0,90,0,0)"], [.18, "rgb(0,90,0)"],
                [.3, "rgb(0,85,0)"], [.5, "rgb(0,60,0)"], [.75, "rgb(0,30,0)"], [1, "rgb(0,12,0)"]]))
s1x, s1y = unzip(S1)
rx1, ry1 = unrow(S1_RING)
fig.add_trace(go.Scatter(x=rx1 + s1x, y=ry1 + s1y, mode="markers", name=SERIES_NAMES[0],
                         marker=dict(color=RED, size=5.4, line=dict(color="#111", width=1))))
sx, sy = unzip(S2)
rx, ry = unrow(S2_RING)
r2x, r2y = unrow(S2_RING2)
fig.add_trace(go.Scatter(x=rx + r2x + sx, y=ry + r2y + sy, mode="markers", name=SERIES_NAMES[1],
                         marker=dict(color=GREEN, size=5.4, line=dict(color="#111", width=1))))
mx, my = unrow(S2_MID)
fig.add_trace(go.Scatter(x=mx, y=my, mode="markers", showlegend=False,
                         marker=dict(color="#00c800", size=3, line=dict(width=0))))
spx, spy = unrow(S2_SPECKS)
fig.add_trace(go.Scatter(x=spx, y=spy, mode="markers", showlegend=False,
                         marker=dict(color="#00a000", size=1.6, line=dict(width=0))))
ox, oy = unzip(OBSERVED)
fig.add_trace(go.Scatter(x=ox, y=oy, mode="markers", name=SERIES_NAMES[2],
                         marker=dict(color=YELLOW, size=16, line=dict(width=0))))

axis_common = dict(showgrid=True, gridcolor="#a3a3a3", gridwidth=1, zeroline=False, showline=True,
                   linecolor="black", linewidth=2, ticks="outside", ticklen=4, tickcolor="#333",
                   tickfont=dict(family="Liberation Sans", size=10, color=TICK))
fig.update_xaxes(range=X_RANGE, tickmode="array", tickvals=X_TICKS, ticktext=[str(v) for v in X_TICKS],
                 title=dict(text=X_TITLE, font=dict(family="Liberation Sans", size=10, color=TICK), standoff=1),
                 minor=dict(dtick=0.4, ticks="outside", ticklen=2, tickcolor="#333", showgrid=False),
                 **axis_common)
fig.update_yaxes(range=Y_RANGE, tickmode="array", tickvals=Y_TICKS, ticktext=[str(v) for v in Y_TICKS],
                 minor=dict(dtick=0.2, ticks="outside", ticklen=2, tickcolor="#333", showgrid=False),
                 **axis_common)

shapes = [
    dict(type="line", xref="paper", yref="paper", x0=0, x1=1, y0=1, y1=1, line=dict(color="#555", width=1)),
    dict(type="line", xref="paper", yref="paper", x0=1, x1=1, y0=0, y1=1, line=dict(color="#555", width=1)),
    dict(type="rect", xref="paper", yref="paper", x0=paper_x(814), x1=paper_x(1080), y0=paper_y(128), y1=paper_y(38),
         fillcolor="#444", line=dict(width=0)),
    dict(type="rect", xref="paper", yref="paper", x0=paper_x(811.5), x1=paper_x(1080), y0=paper_y(125.5), y1=paper_y(35.5),
         fillcolor="white", line=dict(color="#222", width=1)),
]
legend_rows = [(52.7, RED, 6, 5), (80.7, GREEN, 6, 5), (108.3, YELLOW, 18.5, 15.5)]
annotations = [dict(text=Y_TITLE, xref="paper", yref="paper", x=paper_x(14), y=paper_y(251), textangle=-90,
                    xanchor="center", yanchor="middle", showarrow=False,
                    font=dict(family="Liberation Sans", size=10, color=TICK))]
for name, (cy, col, mw, mh) in zip(SERIES_NAMES, legend_rows):
    shapes.append(dict(type="circle", xref="paper", yref="paper", x0=paper_x(837.8 - mw / 2), x1=paper_x(837.8 + mw / 2),
                       y0=paper_y(cy + mh / 2), y1=paper_y(cy - mh / 2), fillcolor=col, line=dict(color="#111", width=1)))
    annotations.append(dict(text=name, xref="paper", yref="paper", x=paper_x(864), y=paper_y(cy), xanchor="left", yanchor="middle",
                            showarrow=False, font=dict(family="Liberation Sans", size=23.6, color="#111")))

fig.update_layout(
    width=W, height=H, showlegend=False, paper_bgcolor="white", plot_bgcolor="white",
    margin=dict(l=L, r=W - R, t=T, b=H - B, autoexpand=False),
    title=dict(text=TITLE, x=393 / W, y=1 - 15 / H, xanchor="center", yanchor="middle",
               font=dict(family="DejaVu Sans", size=13.5, color="#1a1aff")),
    shapes=shapes, annotations=annotations)

fig.write_html("out.html", config={"displayModeBar": False},
               post_script="document.body.style.margin='0';document.body.style.overflow='hidden';")
